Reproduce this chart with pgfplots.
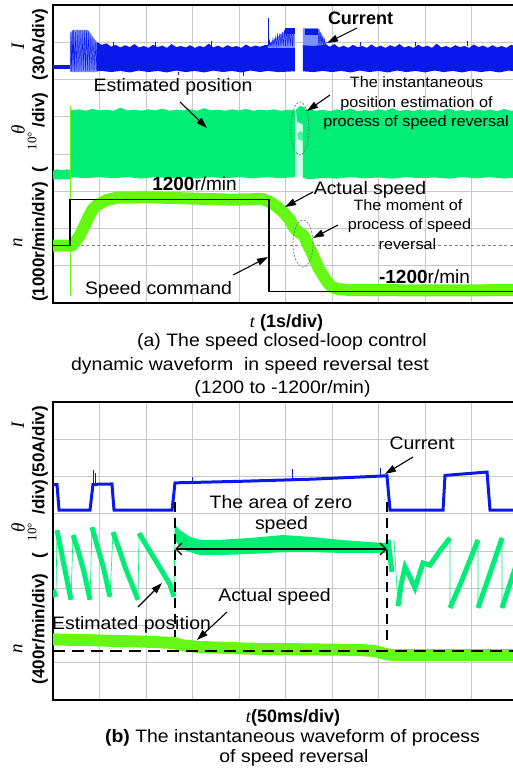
\documentclass[border=0pt]{standalone}
\usepackage{fontspec}
\setmainfont{Liberation Sans}
\newfontfamily\wide[FakeStretch=1.08]{Liberation Sans}
\newfontfamily\serif{Liberation Serif}
\usepackage{pgfplots}
\pgfplotsset{compat=1.18}
\usetikzlibrary{arrows.meta}

\definecolor{curblue}{RGB}{10,25,235}
\definecolor{curlight}{RGB}{125,145,250}
\definecolor{posgreen}{RGB}{0,238,118}
\definecolor{spdgreen}{RGB}{100,248,20}
\definecolor{gridgray}{RGB}{200,200,200}

\newcommand{\fs}[2]{\fontsize{#1bp}{#2bp}\selectfont}

\pgfplotsset{
  osc/.style={anchor=south west, scale only axis, width=465bp, height=298bp,
    ymin=0, ymax=8, ytick={0,...,8}, grid=major,
    grid style={gridgray, line width=0.8bp},
    xticklabels={}, yticklabels={}, major tick length=0pt,
    axis line style={line width=1.8bp}, clip=true, unbounded coords=jump},
  over/.style={anchor=south west, scale only axis, width=465bp, height=298bp,
    hide axis, clip=true},
}

\tikzset{
  lab/.style={font=\wide\fs{18}{21}, inner sep=0pt, anchor=base},
  ann/.style={font=\wide\fs{15}{18}, inner sep=0pt, anchor=base},
  bl/.style={font=\bfseries\fs{17}{20}, inner sep=0pt, rotate=90},
  sym/.style={font=\serif\itshape\fs{19}{21}, inner sep=0pt, rotate=90},
  deg/.style={font=\serif\fs{13}{15}, inner sep=0pt, rotate=90},
  arr/.style={line width=1.1bp, -{Triangle[length=11bp,width=7bp]}},
}

\begin{document}
\begin{tikzpicture}[x=1bp, y=-1bp]
\path[use as bounding box, clip] (0,0) rectangle (513,770);

% ---------------- (a) speed reversal test, 1 s/div ----------------
\begin{axis}[osc, at={(53bp,-303bp)}, xmin=0, xmax=10, xtick={0,...,10}]
% current, motor at standstill
\addplot[curblue, line width=4bp] coordinates {(0,6.34) (0.37,6.34)};
% current, start-up burst
\addplot[fill=curlight, draw=none] coordinates {(0.366,6.20) (0.366,7.25) (0.43,7.33) (0.75,7.33) (0.85,7.15) (0.946,7.0) (0.946,6.20)} -- cycle;
\addplot[curblue, line width=0.4bp] coordinates {(0.37,6.25)(0.385,7.25)(0.40,6.22)(0.415,7.30)(0.43,6.26)(0.445,7.33)(0.46,6.21)(0.48,7.28)(0.50,6.24)(0.52,7.33)(0.54,6.22)(0.56,7.31)(0.58,6.25)(0.60,7.33)(0.62,6.23)(0.64,7.30)(0.66,6.26)(0.68,7.32)(0.70,6.22)(0.72,7.33)(0.74,6.24)(0.76,7.30)(0.78,6.22)(0.80,7.24)(0.82,6.25)(0.84,7.17)(0.86,6.22)(0.88,7.10)(0.90,6.25)(0.92,7.05)(0.94,6.24)(0.95,6.98)};
% current, steady band before reversal
\addplot[fill=curblue, draw=none] coordinates {(0.95,7.00)(1.05,6.93)(1.15,6.97)(1.25,6.88)(1.35,6.93)(1.45,6.86)(1.55,6.92)(1.65,6.87)(1.75,6.95)(1.85,6.86)(1.95,6.90)(2.05,6.85)(2.15,6.93)(2.25,6.87)(2.35,6.91)(2.45,6.85)(2.55,6.95)(2.65,6.87)(2.75,6.90)(2.85,6.86)(2.95,6.92)(3.05,6.85)(3.15,6.90)(3.25,6.87)(3.35,6.96)(3.45,6.86)(3.55,6.91)(3.65,6.85)(3.75,6.92)(3.85,6.87)(3.95,6.90)(4.05,6.85)(4.15,6.94)(4.25,6.87)(4.35,6.91)(4.45,6.88)(4.55,6.92)(4.62,6.93)(4.80,6.90)(5.0,6.92)(5.20,6.90)
 (5.20,6.22)(4.85,6.20)(4.62,6.23)(4.45,6.20)(4.25,6.24)(4.05,6.19)(3.85,6.23)(3.65,6.20)(3.45,6.24)(3.25,6.19)(3.05,6.23)(2.85,6.20)(2.65,6.24)(2.45,6.19)(2.25,6.23)(2.05,6.20)(1.85,6.24)(1.65,6.19)(1.45,6.23)(1.25,6.20)(1.05,6.23)(0.95,6.22)} -- cycle;
% current rise at reversal
\addplot[fill=curlight, draw=none] coordinates {(4.62,6.85)(4.62,6.95)(4.70,7.02)(4.80,7.12)(4.90,7.22)(5.00,7.30)(5.10,7.36)(5.20,7.38)(5.20,6.85)} -- cycle;
\addplot[fill=curblue, draw=none] coordinates {(4.99,7.22)(4.99,7.38)(5.20,7.38)(5.20,7.22)} -- cycle;
\addplot[curblue, line width=0.5bp] coordinates {(4.64,6.9)(4.655,7.05)(4.67,6.9)(4.69,7.0)(4.71,6.9)(4.73,7.1)(4.75,6.9)(4.78,7.15)(4.80,6.9)(4.83,7.2)(4.85,6.9)(4.88,7.25)(4.90,6.9)(4.93,7.28)(4.95,6.9)(4.98,7.33)(5.0,6.9)(5.03,7.35)(5.05,6.9)(5.08,7.38)(5.10,6.9)(5.13,7.38)(5.15,6.9)(5.18,7.38)};
\addplot[curblue, line width=0.6bp] coordinates {(4.624,6.9)(4.624,7.65)};
\addplot[fill=curlight, draw=none] coordinates {(5.376,6.85)(5.376,7.38)(5.70,7.38)(5.78,7.2)(5.85,7.02)(5.89,6.93)(5.89,6.85)} -- cycle;
\addplot[fill=curblue, draw=none] coordinates {(5.42,7.2)(5.42,7.36)(5.70,7.36)(5.70,7.2)} -- cycle;
\addplot[curblue, line width=0.5bp] coordinates {(5.70,6.9)(5.72,7.35)(5.74,6.9)(5.76,7.28)(5.78,6.9)(5.80,7.18)(5.82,6.9)(5.84,7.08)(5.86,6.9)(5.88,7.0)};
% current, steady band after reversal
\addplot[fill=curblue, draw=none] coordinates {(5.376,6.92)(5.6,6.90)(5.89,6.93)(5.95,6.88)(6.05,6.95)(6.15,6.86)(6.25,6.91)(6.35,6.85)(6.45,6.93)(6.55,6.87)(6.65,6.90)(6.75,6.85)(6.85,6.94)(6.95,6.86)(7.05,6.91)(7.15,6.85)(7.25,6.92)(7.35,6.87)(7.45,6.95)(7.55,6.86)(7.65,6.90)(7.75,6.85)(7.85,6.93)(7.95,6.87)(8.05,6.91)(8.15,6.85)(8.25,6.96)(8.35,6.86)(8.45,6.90)(8.55,6.85)(8.65,6.92)(8.75,6.87)(8.85,6.90)(8.95,6.85)(9.05,6.94)(9.15,6.87)(9.25,6.91)(9.35,6.85)(9.45,6.92)(9.55,6.86)(9.65,6.90)(9.75,6.85)(9.85,6.93)(10,6.88)
 (10,6.21)(9.8,6.24)(9.6,6.19)(9.4,6.23)(9.2,6.20)(9.0,6.24)(8.8,6.19)(8.6,6.23)(8.4,6.20)(8.2,6.24)(8.0,6.19)(7.8,6.23)(7.6,6.20)(7.4,6.24)(7.2,6.19)(7.0,6.23)(6.8,6.20)(6.6,6.24)(6.4,6.19)(6.2,6.23)(6.0,6.20)(5.8,6.23)(5.6,6.20)(5.376,6.22)} -- cycle;
\addplot[curblue, line width=0.6bp] coordinates {(1.30,6.9)(1.30,7.02) (1.30,nan) (2.20,6.9)(2.20,7.0) (2.20,nan) (3.40,6.9)(3.40,7.03) (3.40,nan) (4.10,6.2)(4.10,6.10) (4.10,nan) (6.60,6.9)(6.60,7.02) (6.60,nan) (7.80,6.9)(7.80,7.0) (7.80,nan) (8.90,6.9)(8.90,7.03) (8.90,nan) (2.70,6.2)(2.70,6.11)};

% estimated position
\addplot[fill=posgreen, draw=none] coordinates {(0,3.55)(0.1,3.59)(0.2,3.56)(0.3,3.59)(0.366,3.56)(0.366,3.32)(0,3.32)} -- cycle;
\addplot[fill=posgreen, draw=none] coordinates {(0.366,5.30)(0.40,5.17)(0.55,5.20)(0.70,5.16)(0.85,5.21)(1.0,5.17)(1.15,5.19)(1.30,5.16)(1.45,5.24)(1.60,5.17)(1.75,5.19)(1.90,5.16)(2.05,5.20)(2.20,5.17)(2.35,5.22)(2.50,5.16)(2.65,5.19)(2.80,5.17)(2.95,5.20)(3.10,5.16)(3.25,5.23)(3.40,5.17)(3.55,5.19)(3.70,5.16)(3.85,5.20)(4.00,5.17)(4.15,5.21)(4.30,5.16)(4.45,5.19)(4.60,5.17)(4.75,5.20)(4.90,5.16)(5.05,5.19)(5.20,5.17)
 (5.20,3.38)(4.9,3.35)(4.6,3.38)(4.3,3.35)(4.0,3.38)(3.7,3.35)(3.4,3.38)(3.1,3.34)(2.8,3.38)(2.5,3.35)(2.2,3.38)(1.9,3.34)(1.6,3.38)(1.3,3.35)(1.0,3.38)(0.7,3.35)(0.366,3.38)} -- cycle;
\addplot[fill=posgreen!18, draw=none] coordinates {(5.20,3.40)(5.20,5.15)(5.376,5.15)(5.376,3.40)} -- cycle;
\addplot[fill=posgreen, draw=none] coordinates {(5.226,5.19)(5.312,5.29)(5.419,5.24)(5.462,4.97)(5.376,4.79)(5.247,4.87)} -- cycle;
\addplot[fill=posgreen!70, draw=none] coordinates {(5.25,4.55)(5.33,4.62)(5.42,4.50)(5.36,4.35)(5.27,4.40)} -- cycle;
\addplot[fill=posgreen, draw=none] coordinates {(5.376,5.17)(5.50,5.21)(5.65,5.16)(5.80,5.19)(5.95,5.15)(6.10,5.20)(6.25,5.16)(6.40,5.22)(6.55,5.15)(6.70,5.18)(6.85,5.15)(7.00,5.20)(7.15,5.16)(7.30,5.23)(7.45,5.15)(7.60,5.19)(7.75,5.15)(7.90,5.20)(8.05,5.16)(8.20,5.19)(8.35,5.15)(8.50,5.22)(8.65,5.16)(8.80,5.18)(8.95,5.15)(9.10,5.20)(9.25,5.16)(9.40,5.19)(9.55,5.15)(9.70,5.21)(9.85,5.16)(10,5.18)
 (10,3.37)(9.7,3.34)(9.4,3.38)(9.1,3.35)(8.8,3.38)(8.5,3.34)(8.2,3.37)(7.9,3.35)(7.6,3.38)(7.3,3.34)(7.0,3.37)(6.7,3.35)(6.4,3.38)(6.1,3.34)(5.8,3.36)(5.5,3.32)(5.376,3.36)} -- cycle;
\addplot[spdgreen, line width=0.7bp] coordinates {(0.366,0.19)(0.366,5.30)};
\end{axis}

% speed traces of (a), in r/min
\begin{axis}[over, at={(53bp,-303bp)}, xmin=0, xmax=10, ymin=-1493, ymax=6246]
\addplot[gray, line width=0.6bp, dash pattern=on 3bp off 2.5bp] coordinates {(0,0) (10,0)};
\addplot[spdgreen, line width=12bp, line join=round] coordinates {(0,0) (0.409,0) (0.495,120) (0.581,273) (0.667,480) (0.753,714) (0.850,930) (0.946,1052) (1.161,1182) (1.376,1241) (2.086,1250) (3.871,1190) (4.495,1208) (4.667,1130) (4.796,1026) (4.946,870) (5.097,662) (5.161,506) (5.226,403) (5.312,325) (5.376,273) (5.419,195) (5.484,13) (5.570,-195) (5.699,-558) (5.828,-818) (5.914,-974) (6.0,-1078) (6.129,-1130) (6.387,-1156) (8,-1165) (10,-1160)};
\addplot[black, line width=1.4bp] coordinates {(0,0) (0.366,0) (0.366,1200) (4.645,1200) (4.645,-1200) (10,-1200)};
\end{axis}

% ---------------- (b) speed reversal detail, 50 ms/div ----------------
\begin{axis}[osc, at={(53bp,-700bp)}, xmin=0, xmax=500, xtick={0,50,...,500}]
% current
\addplot[curblue, line width=3bp] coordinates {(0,5.78) (4.3,5.78) (6.5,5.10) (39.8,5.10) (43.0,5.79) (63.4,5.80) (65.6,5.10) (128.0,5.10) (131.2,5.83) (200,5.87) (280,5.93) (359.1,6.02) (362.4,5.10) (419.4,5.10) (421.5,6.03) (466.7,6.12) (469.9,5.10) (500,5.10)};
\addplot[curblue, line width=0.7bp] coordinates {(43.8,5.8)(43.8,6.17) (43.8,nan) (46.0,5.8)(46.0,6.10) (46.0,nan) (257,5.9)(257,6.20) (257,nan) (352,6.0)(352,6.23) (352,nan) (150,5.85)(150,5.98)};
% estimated position, sawtooth before reversal
\addplot[posgreen, line width=5bp] coordinates {(0,2.95) (3.2,2.77) (3.2,nan)
 (4.3,4.56) (7.5,4.16) (11.8,3.62) (16.1,3.09) (19.4,2.69) (19.4,nan)
 (21.5,4.43) (26.9,4.03) (33.3,3.44) (39.8,2.69) (39.8,nan)
 (41.9,4.64) (47.3,4.16) (53.8,3.60) (61.3,2.77) (61.3,nan)
 (64.5,4.51) (71.0,4.05) (78.5,3.50) (84.9,3.10) (91.4,2.69) (91.4,nan)
 (92.5,4.48) (104.3,3.99) (115.1,3.55) (125.8,3.10) (130.1,2.77)};
\addplot[posgreen, line width=0.6bp] coordinates {(3.2,2.77)(4.3,4.56) (4.3,nan) (19.4,2.69)(21.5,4.43) (21.5,nan) (39.8,2.69)(41.9,4.64) (41.9,nan) (61.3,2.77)(64.5,4.51) (64.5,nan) (91.4,2.69)(92.5,4.48) (92.5,nan) (130.1,2.77)(131.2,4.70)};
% estimated position, zero-speed interval
\addplot[fill=posgreen, draw=none] coordinates {(131.2,4.70) (136.6,4.56) (147.3,4.38) (158.1,4.30) (179.6,4.30) (211.8,4.35) (247.3,4.43) (276.3,4.38) (308.6,4.30) (340.9,4.24) (359.1,4.21) (359.1,3.95) (340.9,3.95) (308.6,3.95) (276.3,3.97) (247.3,3.97) (211.8,3.92) (179.6,3.89) (158.1,3.89) (147.3,3.97) (136.6,4.08) (131.2,4.30)} -- cycle;
% estimated position, sawtooth after reversal
\addplot[posgreen, line width=5bp] coordinates {(360.2,4.30) (364.5,3.44) (364.5,nan)
 (371.0,2.52) (374.2,3.09) (378.5,3.57) (383.9,3.30) (389.2,3.01) (397.9,3.68) (405.4,3.62) (416,4.0) (426.9,4.35) (426.9,nan)
 (426.9,2.47) (437.6,3.09) (448.4,3.76) (457.0,4.30) (457.0,nan)
 (457.0,2.47) (469.9,3.40) (482.8,4.35) (482.8,nan)
 (482.8,2.47) (494.6,3.36) (500,3.76)};
\addplot[posgreen, line width=0.6bp] coordinates {(366.7,4.30)(371.0,2.52) (371.0,nan) (426.9,4.35)(426.9,2.47) (426.9,nan) (457.0,4.30)(457.0,2.47) (457.0,nan) (482.8,4.35)(482.8,2.47)};
% boundaries of the zero-speed interval
\addplot[black, line width=1.5bp, dash pattern=on 10bp off 6bp] coordinates {(131.2,5.315) (131.2,1.45)};
\addplot[black, line width=1.5bp, dash pattern=on 10bp off 6bp] coordinates {(359.1,5.315) (359.1,1.45)};
\addplot[black, line width=1.3bp, {Straight Barb[length=6bp,width=12bp]}-{Straight Barb[length=6bp,width=12bp]}] coordinates {(131.2,4.054) (359.1,4.054)};
\end{axis}

% speed trace of (b), in r/min
\begin{axis}[over, at={(53bp,-700bp)}, xmin=0, xmax=500, ymin=-526, ymax=2674]
\addplot[spdgreen, line width=12bp, line join=round] coordinates {(0,125) (50,113) (100,100) (131,86) (137,64) (158,43) (212,25) (276,18) (330,11) (346,0) (359,-35) (365,-43) (500,-43)};
\addplot[black, line width=2bp, dash pattern=on 12bp off 7bp] coordinates {(0,0) (500,0)};
\end{axis}

% ---------------- annotations of (a) ----------------
\node[font=\bfseries\fs{18}{21}, inner sep=0pt, anchor=base] at (360.5,24.5) {Current};
\draw[arr] (357,28) -- (327,43);
\node[lab] at (173,91.5) {Estimated position};
\draw[arr] (180,102) -- (207,128);
\node[ann] at (416.5,87.5) {The instantaneous};
\node[ann] at (416.5,107) {position estimation of};
\node[ann] at (416,126) {process of speed reversal};
\draw[arr] (330,95) -- (307,111);
\draw[gray!80!black, line width=0.6bp, dash pattern=on 2bp off 1.5bp] (300,128.5) ellipse [x radius=9bp, y radius=26.5bp];
\node[font=\fs{19}{21}, inner sep=0pt, anchor=base] at (194.5,190) {\textbf{1200}r/min};
\node[lab] at (370,194) {Actual speed};
\draw[arr] (313,192) -- (285,207);
\node[ann] at (408,210) {The moment of};
\node[ann] at (409.5,229) {process of speed};
\node[ann] at (407.5,249) {reversal};
\draw[arr] (338,225) -- (313,238);
\draw[gray!80!black, line width=0.6bp, dash pattern=on 2bp off 1.5bp] (303,243.5) ellipse [x radius=10bp, y radius=23.5bp];
\node[font=\fs{19}{21}, inner sep=0pt, anchor=base] at (424.5,283) {\textbf{-1200}r/min};
\node[lab] at (158.5,294) {Speed command};
\draw[arr] (233,275) -- (268,257);

% axis labels of (a)
\node[bl] at (40,44.5) {(30A/div)};
\node[bl] at (40,110) {/div)};
\node[bl] at (40,170) {(};
\node[bl] at (40,242) {(1000r/min/div)};
\node[sym] at (18,46) {I};
\node[sym] at (18,130) {θ};
\node[sym] at (18,243) {n};
\node[deg] at (32,141) {10°};
\node[font=\fs{18}{21}, inner sep=0pt, anchor=base] at (286.5,327) {{\serif\itshape t} \textbf{(1s/div)}};
\node[lab] at (282,346) {(a) The speed closed-loop control};
\node[lab] at (250,370) {dynamic waveform\ \ in speed reversal test};
\node[lab] at (282.5,393) {(1200 to -1200r/min)};

% ---------------- annotations of (b) ----------------
\node[lab] at (422,449) {Current};
\draw[arr] (413,457) -- (385,474);
\node[lab] at (281,508) {The area of zero};
\node[lab] at (281.5,529) {speed};
\node[lab] at (274.5,601) {Actual speed};
\draw[arr] (227,612) -- (197,640);
\node[lab] at (131.5,629) {Estimated position};
\draw[arr] (138,607) -- (162,583);

% axis labels of (b)
\node[bl] at (40,442) {(50A/div)};
\node[bl] at (40,497) {/div)};
\node[bl] at (40,556) {(};
\node[bl] at (40,629) {(400r/min/div)};
\node[sym] at (18,425) {I};
\node[sym] at (18,528) {θ};
\node[sym] at (18,649) {n};
\node[deg] at (32,532) {10°};
\node[font=\fs{18}{21}, inner sep=0pt, anchor=base] at (293,722) {{\serif\itshape t}\textbf{(50ms/div)}};
\node[lab] at (292.5,742) {\textbf{(b)} The instantaneous waveform of process};
\node[lab] at (294,762) {of speed reversal};
\end{tikzpicture}
\end{document}
